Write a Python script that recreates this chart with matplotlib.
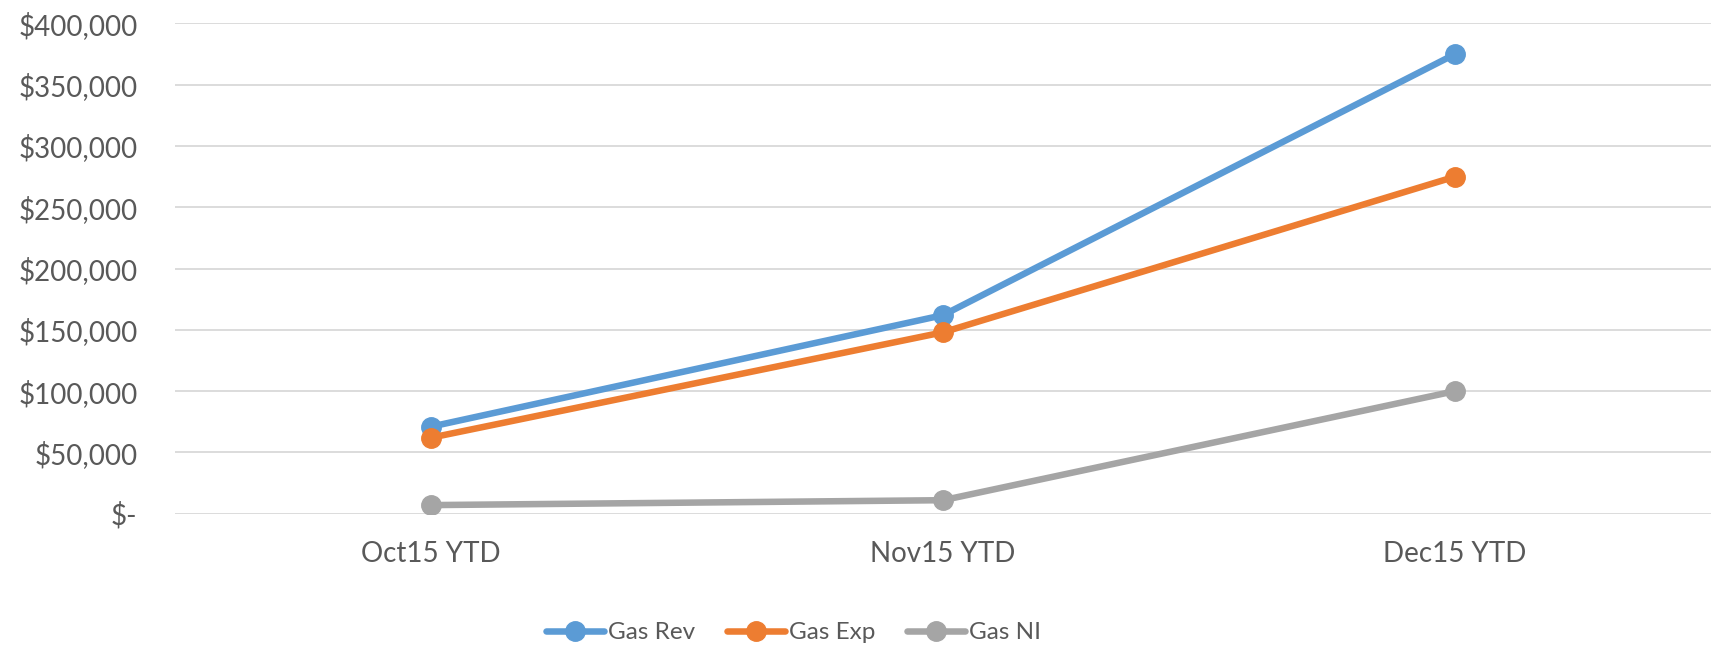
import matplotlib
matplotlib.use("Agg")
import matplotlib.pyplot as plt
from matplotlib.ticker import FuncFormatter

# data
periods = ["Oct15 YTD", "Nov15 YTD", "Dec15 YTD"]
gas_rev = [71000, 162000, 375000]
gas_exp = [62000, 148000, 275000]
gas_ni = [7000, 11000, 100000]

plt.rcParams['font.family'] = ['Lato', 'DejaVu Sans']

fig = plt.figure(figsize=(17.21, 6.49), dpi=100)
ax = fig.add_axes([0.1017, 0.2085, 0.8925, 0.7553])

x = range(len(periods))
ax.plot(x, gas_rev, color='#5B9BD5', lw=4.7, marker='o', ms=14, label='Gas Rev', solid_capstyle='round')
ax.plot(x, gas_exp, color='#ED7D31', lw=4.7, marker='o', ms=14, label='Gas Exp', solid_capstyle='round')
ax.plot(x, gas_ni, color='#A5A5A5', lw=4.7, marker='o', ms=14, label='Gas NI', solid_capstyle='round')

ax.set_xlim(-0.5, 2.5)
ax.set_ylim(0, 400000)
ax.set_yticks(range(0, 400001, 50000))
ax.yaxis.set_major_formatter(FuncFormatter(lambda v, p: "$-" if v == 0 else f"${v:,.0f}"))
ax.set_xticks(list(x))
ax.set_xticklabels(periods)
ax.grid(axis='y', color='#D9D9D9', lw=1.3)
ax.set_axisbelow(True)
for s in ax.spines.values():
    s.set_visible(False)
ax.tick_params(length=0, labelcolor='#595959')
ax.tick_params(axis='y', labelsize=20, pad=27)
ax.tick_params(axis='x', labelsize=20, pad=20)

fig.legend(loc='center', bbox_to_anchor=(0.461, 0.025), ncol=3, frameon=False,
           fontsize=17.5, labelcolor='#595959', handlelength=2.4, columnspacing=1.3,
           handletextpad=0.15)

fig.savefig("out.png", dpi=100)
